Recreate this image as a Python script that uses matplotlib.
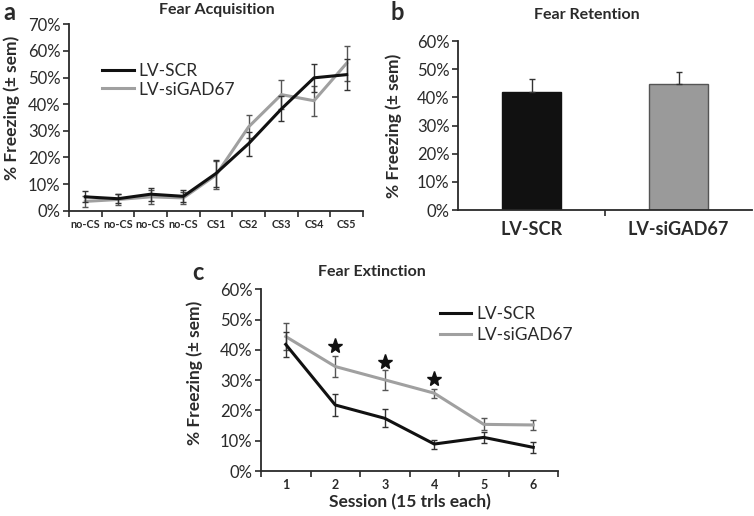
import matplotlib
matplotlib.use("Agg")
import matplotlib.pyplot as plt
import numpy as np

plt.rcParams['font.family'] = ['Lato', 'DejaVu Sans']

# Panel a data
acq_labels = ["no-CS", "no-CS", "no-CS", "no-CS", "CS1", "CS2", "CS3", "CS4", "CS5"]
acq_scr = [5.2, 4.5, 6.2, 5.4, 14.0, 25.2, 38.2, 49.9, 51.1]
acq_scr_err = [2.1, 1.6, 2.4, 2.2, 5.0, 4.5, 4.7, 5.2, 5.8]
acq_gad = [3.5, 4.2, 5.2, 4.8, 13.4, 31.5, 43.6, 41.3, 55.4]
acq_gad_err = [2.2, 2.0, 2.6, 2.4, 5.2, 4.3, 5.3, 5.7, 6.6]

# Panel b data
ret_labels = ["LV-SCR", "LV-siGAD67"]
ret_vals = [42.0, 44.9]
ret_err = [4.5, 4.2]

# Panel c data
ext_sessions = [1, 2, 3, 4, 5, 6]
ext_scr = [41.8, 21.8, 17.4, 8.9, 11.1, 7.8]
ext_scr_err = [4.2, 3.5, 3.0, 1.5, 1.8, 1.7]
ext_gad = [44.4, 34.5, 30.1, 25.7, 15.4, 15.2]
ext_gad_err = [4.6, 3.6, 3.2, 1.5, 2.0, 1.7]
star_sessions = [2, 3, 4]
star_y = [41.3, 36.1, 30.3]

BLACK = "#111111"
GRAY = "#a0a0a0"
TXT = "#2a2a2a"

fig = plt.figure(figsize=(7.54, 5.16), dpi=100)
W, H = 754, 516

def ax_px(l, r, t, b):
    return fig.add_axes([l / W, 1 - b / H, (r - l) / W, (b - t) / H])

def pct(v, pos=None):
    return f"{int(round(v))}%"

TICK_FS = 12

def style(ax):
    for s in ["top", "right"]:
        ax.spines[s].set_visible(False)
    for s in ["left", "bottom"]:
        ax.spines[s].set_color(TXT)
        ax.spines[s].set_linewidth(1.3)
    ax.yaxis.set_major_formatter(matplotlib.ticker.FuncFormatter(pct))
    ax.tick_params(axis='y', direction='out', length=4, width=1.2, color=TXT,
                   labelsize=TICK_FS, labelcolor=TXT, pad=2)
    ax.tick_params(axis='x', direction='out', length=4, width=1.2, color=TXT)

ylab = "% Freezing (± sem)"
YL_FS = 12.5

# ---------------- Panel a ----------------
axa = ax_px(69, 363, 24.3, 210.7)
style(axa)
xa = np.arange(1, len(acq_labels) + 1)
la = axa.errorbar(xa, acq_scr, yerr=acq_scr_err, color=BLACK, lw=2.2, ecolor="#333333",
                  elinewidth=1.0, capsize=2.5, capthick=1.0, zorder=3)
lb = axa.errorbar(xa, acq_gad, yerr=acq_gad_err, color=GRAY, lw=2.2, ecolor="#555555",
                  elinewidth=1.0, capsize=2.5, capthick=1.0, zorder=2)
axa.set_xlim(0.5, len(acq_labels) + 0.5)
axa.set_ylim(0, 70)
axa.set_yticks(np.arange(0, 71, 10))
axa.set_xticks(np.arange(0.5, len(acq_labels) + 1, 1))
axa.set_xticklabels([])
axa.set_xticks(xa, minor=True)
axa.set_xticklabels(acq_labels, minor=True, fontsize=7.8, fontweight='bold', color=TXT)
axa.tick_params(axis='x', which='minor', length=0, pad=6)
axa.set_ylabel(ylab, fontsize=YL_FS, fontweight='bold', color=TXT)
axa.yaxis.set_label_coords(-0.167, 0.55)
leg = axa.legend(handles=[la.lines[0], lb.lines[0]],
                 labels=["LV-SCR", "LV-siGAD67"], frameon=False, loc='upper left',
                 bbox_to_anchor=(0.09, 0.83), fontsize=12.5, handlelength=1.8,
                 handletextpad=0.3, labelspacing=0.15, borderaxespad=0)
for t in leg.get_texts():
    t.set_color(TXT)
fig.text(3 / W, 1 - 12 / H, "a", fontsize=17, fontweight='bold', color=TXT, va='center')
fig.text(217 / W, 1 - 10 / H, "Fear Acquisition", fontsize=11.5, fontweight='bold',
         color=TXT, ha='center', va='center')

# ---------------- Panel b ----------------
axb = ax_px(458, 752, 41, 210)
style(axb)
xb = np.arange(len(ret_labels))
axb.bar(xb, ret_vals, width=0.4, color=[BLACK, "#9a9a9a"], edgecolor=["#111111", "#555555"],
        linewidth=1.0, zorder=2)
axb.errorbar(xb, ret_vals, yerr=[[0, 0], ret_err], fmt='none', ecolor="#333333",
             elinewidth=1.0, capsize=2.5, capthick=1.0, zorder=3)
axb.set_xlim(-0.5, len(ret_labels) - 0.5)
axb.set_ylim(0, 60)
axb.set_yticks(np.arange(0, 61, 10))
axb.set_xticks([0.5])
axb.set_xticklabels([])
axb.set_xticks(xb, minor=True)
axb.set_xticklabels(ret_labels, minor=True, fontsize=13, fontweight='bold', color=TXT)
axb.tick_params(axis='x', which='minor', length=0, pad=8)
axb.set_ylabel(ylab, fontsize=YL_FS, fontweight='bold', color=TXT)
axb.yaxis.set_label_coords(-0.19, 0.5)
fig.text(390 / W, 1 - 13 / H, "b", fontsize=17, fontweight='bold', color=TXT, va='center')
fig.text(587 / W, 1 - 15 / H, "Fear Retention", fontsize=11.5, fontweight='bold',
         color=TXT, ha='center', va='center')

# ---------------- Panel c ----------------
axc = ax_px(261, 558, 289.3, 471)
style(axc)
l1 = axc.errorbar(ext_sessions, ext_scr, yerr=ext_scr_err, color=BLACK, lw=2.2,
                  ecolor="#333333", elinewidth=1.0, capsize=2.5, capthick=1.0, zorder=3)
l2 = axc.errorbar(ext_sessions, ext_gad, yerr=ext_gad_err, color=GRAY, lw=2.2,
                  ecolor="#555555", elinewidth=1.0, capsize=2.5, capthick=1.0, zorder=2)
axc.plot(star_sessions, star_y, linestyle='none', marker='*', markersize=11,
         color=BLACK, zorder=4)
axc.set_xlim(0.5, len(ext_sessions) + 0.5)
axc.set_ylim(0, 60)
axc.set_yticks(np.arange(0, 61, 10))
axc.set_xticks(np.arange(0.5, len(ext_sessions) + 1, 1))
axc.set_xticklabels([])
axc.set_xticks(ext_sessions, minor=True)
axc.set_xticklabels([str(s) for s in ext_sessions], minor=True, fontsize=9,
                    fontweight='bold', color=TXT)
axc.tick_params(axis='x', which='minor', length=0, pad=6)
axc.set_xlabel("Session (15 trls each)", fontsize=12.5, fontweight='bold', color=TXT,
               labelpad=2)
axc.set_ylabel(ylab, fontsize=YL_FS, fontweight='bold', color=TXT)
axc.yaxis.set_label_coords(-0.195, 0.54)
legc = axc.legend(handles=[l1.lines[0], l2.lines[0]], labels=["LV-SCR", "LV-siGAD67"],
                  frameon=False, loc='upper left', bbox_to_anchor=(0.58, 0.945),
                  fontsize=12.5, handlelength=1.8, handletextpad=0.3,
                  labelspacing=0.3, borderaxespad=0)
for t in legc.get_texts():
    t.set_color(TXT)
fig.text(192 / W, 1 - 272 / H, "c", fontsize=17, fontweight='bold', color=TXT, va='center')
fig.text(372 / W, 1 - 272 / H, "Fear Extinction", fontsize=11.5, fontweight='bold',
         color=TXT, ha='center', va='center')

fig.savefig("out.png", dpi=100)
